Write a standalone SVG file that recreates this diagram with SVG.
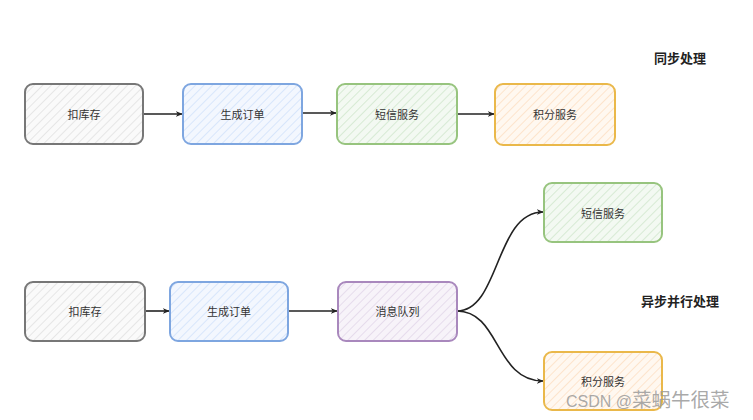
<svg xmlns="http://www.w3.org/2000/svg" width="753" height="420" viewBox="0 0 753 420">
<style>
.lbl{font-family:"Noto Sans CJK SC","Liberation Sans",sans-serif;font-size:11px;fill:#333;text-anchor:middle;dominant-baseline:central}
.ttl{font-family:"Noto Sans CJK SC","Liberation Sans",sans-serif;font-size:13px;font-weight:bold;fill:#222;text-anchor:middle;dominant-baseline:central}
.box{stroke-width:2;stroke-linejoin:round}
.gray{stroke:#777777;fill:url(#hGray)}
.blue{stroke:#7ea6e0;fill:url(#hBlue)}
.green{stroke:#97c47e;fill:url(#hGreen)}
.orange{stroke:#eab84a;fill:url(#hOrange)}
.purple{stroke:#a988bd;fill:url(#hPurple)}
.conn{fill:none;stroke:#222;stroke-width:1.6;marker-end:url(#arr)}
</style>
<defs>
<pattern id="hGray" width="6" height="6" patternUnits="userSpaceOnUse" patternTransform="rotate(45)"><rect width="6" height="6" fill="#fafafa"/><line x1="0" y1="0" x2="0" y2="6" stroke="#e6e6e6" stroke-width="2"/></pattern>
<pattern id="hBlue" width="6" height="6" patternUnits="userSpaceOnUse" patternTransform="rotate(45)"><rect width="6" height="6" fill="#f3f7fe"/><line x1="0" y1="0" x2="0" y2="6" stroke="#d8e6fb" stroke-width="2"/></pattern>
<pattern id="hGreen" width="6" height="6" patternUnits="userSpaceOnUse" patternTransform="rotate(45)"><rect width="6" height="6" fill="#f3f9f2"/><line x1="0" y1="0" x2="0" y2="6" stroke="#d7ead4" stroke-width="2"/></pattern>
<pattern id="hOrange" width="6" height="6" patternUnits="userSpaceOnUse" patternTransform="rotate(45)"><rect width="6" height="6" fill="#fff8f0"/><line x1="0" y1="0" x2="0" y2="6" stroke="#fde4cc" stroke-width="2"/></pattern>
<pattern id="hPurple" width="6" height="6" patternUnits="userSpaceOnUse" patternTransform="rotate(45)"><rect width="6" height="6" fill="#f7f3f9"/><line x1="0" y1="0" x2="0" y2="6" stroke="#e6dcec" stroke-width="2"/></pattern>
<marker id="arr" viewBox="0 0 10 10" refX="9" refY="5" markerWidth="7" markerHeight="7" orient="auto" markerUnits="userSpaceOnUse"><path d="M0,1 L10,5 L0,9 L3,5 Z" fill="#222"/></marker>
</defs>
<rect width="753" height="420" fill="#ffffff"/>

<g id="connectors">
<path class="conn" d="M143,114 L182,114"/>
<path class="conn" d="M302,113 L336,113"/>
<path class="conn" d="M457,114 L494,114"/>
<path class="conn" d="M145,311 L169,311"/>
<path class="conn" d="M288,311 L337,311"/>
<path class="conn" d="M457,311 C500,311 495,212 543,212"/>
<path class="conn" d="M457,311 C500,311 495,381 543,381"/>
</g>

<g id="sync-kucun"><rect class="box gray" x="25" y="84" width="118" height="60" rx="8"/><text class="lbl" x="84" y="114">扣库存</text></g>
<g id="sync-order"><rect class="box blue" x="183" y="84" width="119" height="60" rx="8"/><text class="lbl" x="242.5" y="114">生成订单</text></g>
<g id="sync-sms"><rect class="box green" x="337" y="84" width="120" height="60" rx="8"/><text class="lbl" x="397" y="114">短信服务</text></g>
<g id="sync-points"><rect class="box orange" x="495" y="84" width="120" height="61" rx="8"/><text class="lbl" x="555" y="114">积分服务</text></g>
<g id="title-sync"><text class="ttl" x="680" y="57">同步处理</text></g>

<g id="async-kucun"><rect class="box gray" x="25" y="282" width="120" height="59" rx="8"/><text class="lbl" x="85" y="311">扣库存</text></g>
<g id="async-order"><rect class="box blue" x="170" y="282" width="118" height="59" rx="8"/><text class="lbl" x="229" y="311">生成订单</text></g>
<g id="async-mq"><rect class="box purple" x="338" y="282" width="119" height="59" rx="8"/><text class="lbl" x="397.5" y="311">消息队列</text></g>
<g id="async-sms"><rect class="box green" x="544" y="183" width="118" height="59" rx="8"/><text class="lbl" x="603" y="213">短信服务</text></g>
<g id="async-points"><rect class="box orange" x="544" y="352" width="118" height="58" rx="8"/><text class="lbl" x="603" y="381">积分服务</text></g>
<g id="title-async"><text class="ttl" x="680" y="300">异步并行处理</text></g>

<text x="566" y="407" style="font-family:'Liberation Sans','Noto Sans CJK SC',sans-serif;font-size:16px;fill:#9a9a9a;fill-opacity:0.85">CSDN @<tspan style="font-family:'Noto Sans CJK SC',sans-serif;font-size:19.5px">菜蜗牛很菜</tspan></text>
</svg>
